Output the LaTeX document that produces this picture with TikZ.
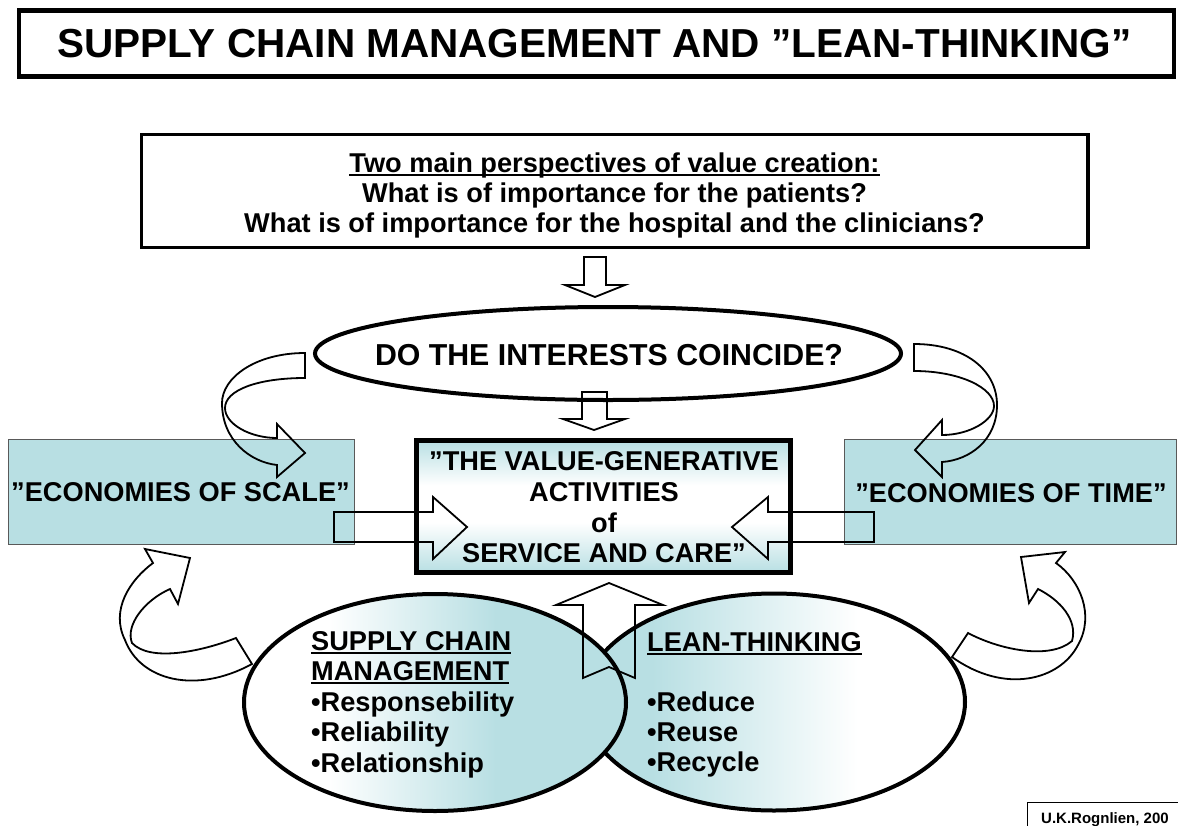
\documentclass[tikz,border=0pt]{standalone}
\usepackage{fontspec}
\setmainfont{Liberation Sans}
\usetikzlibrary{shapes.geometric}
\definecolor{tealbox}{RGB}{184,223,227}
\pgfdeclarehorizontalshading{scmshade}{100bp}{color(0bp)=(white); color(36bp)=(white); color(58bp)=(tealbox); color(100bp)=(tealbox)}
\pgfdeclarehorizontalshading{leanshade}{100bp}{color(0bp)=(tealbox); color(34bp)=(tealbox); color(61bp)=(white); color(100bp)=(white)}
\pgfdeclareverticalshading{centershade}{100bp}{color(0bp)=(tealbox); color(25bp)=(tealbox); color(44bp)=(white); color(58bp)=(white); color(75bp)=(tealbox); color(100bp)=(tealbox)}
\newcommand{\ulx}[1]{\setbox0=\hbox{#1}\rlap{\rule[-3.5pt]{\wd0}{2pt}}\box0}
\newcommand{\bodyfont}{\fontsize{27.2}{30}\selectfont\bfseries}
\newcommand{\titlefont}{\fontsize{40.5}{46}\selectfont\bfseries}
\newcommand{\askfont}{\fontsize{30.3}{34}\selectfont\bfseries}
\newcommand{\creditfont}{\fontsize{15}{18}\selectfont\bfseries}
\begin{document}
\begin{tikzpicture}[x=1pt,y=-1pt,
  txt/.style={inner sep=0pt, anchor=base, font=\bodyfont},
  txtl/.style={inner sep=0pt, anchor=base west, font=\bodyfont},
  frame/.style={draw=black, inner sep=0pt},
  blockarrow/.style={draw=black, line width=1.8pt, line join=miter, miter limit=20},
  sidebox/.style={draw=black!65, line width=1.2pt, fill=tealbox, inner sep=0pt, minimum height=104.5pt}
]
\useasboundingbox (0,0) rectangle (1178,825);

% title
\node[frame, line width=4.5pt, minimum width=1155pt, minimum height=66pt] (titlebox) at (596.5,43.5) {};
\node[inner sep=0pt, anchor=base, font=\titlefont] (titletext) at (594.5,57) {SUPPLY CHAIN MANAGEMENT AND ”LEAN-THINKING”};

% top box
\node[frame, line width=3.5pt, minimum width=946.5pt, minimum height=113pt] (topbox) at (614.75,191) {};
\node[txt] (top1) at (614.5,172) {\ulx{Two main perspectives of value creation:}};
\node[txt] (top2) at (614.5,202) {What is of importance for the patients?};
\node[txt] (top3) at (614.5,232) {What is of importance for the hospital and the clinicians?};

% question ellipse
\node[ellipse, draw=black, line width=4pt, minimum width=586pt, minimum height=93pt, inner sep=0pt] (ask) at (608,353.5) {};
\node[inner sep=0pt, anchor=base, font=\askfont] (asktext) at (609,365) {DO THE INTERESTS COINCIDE?};

% side boxes
\node[sidebox, minimum width=346pt] (scalebox) at (181.5,492) {};
\node[txt] (scaletext) at (180.5,501.5) {”ECONOMIES OF SCALE”};
\node[sidebox, minimum width=332pt] (timebox) at (1010.5,492) {};
\node[txt] (timetext) at (1011,502) {”ECONOMIES OF TIME”};

% centre box
\node[frame, line width=4.5pt, minimum width=374pt, minimum height=132pt, shading=centershade] (valuebox) at (603.5,506.5) {};
\node[txt] (val1) at (604,470) {”THE VALUE-GENERATIVE};
\node[txt] (val2) at (604,501) {ACTIVITIES};
\node[txt] (val3) at (604,532) {of};
\node[txt] (val4) at (604,562) {SERVICE AND CARE”};

% bottom ellipses
\node[ellipse, draw=black, line width=4pt, minimum width=382pt, minimum height=217pt, inner sep=0pt, shading=leanshade] (lean) at (774,702) {};
\node[ellipse, draw=black, line width=4pt, minimum width=382pt, minimum height=217pt, inner sep=0pt, shading=scmshade] (scm) at (435,702.5) {};

\node[txtl] (scm1) at (311,650) {\ulx{SUPPLY CHAIN}};
\node[txtl] (scm2) at (311,680) {\ulx{MANAGEMENT}};
\node[txtl] (scm3) at (311,711) {•Responsebility};
\node[txtl] (scm4) at (311,741) {•Reliability};
\node[txtl] (scm5) at (311,772) {•Relationship};

\node[txtl] (lean1) at (647,651) {\ulx{LEAN-THINKING}};
\node[txtl] (lean2) at (647,711) {•Reduce};
\node[txtl] (lean3) at (647,741) {•Reuse};
\node[txtl] (lean4) at (647,771) {•Recycle};

% straight block arrows
\draw[blockarrow] (584,257) -- (606,257) -- (606,285) -- (625,285) -- (595,297) -- (565,285) -- (584,285) -- cycle;
\draw[blockarrow] (582,392) -- (607,392) -- (607,419) -- (625,419) -- (594,430) -- (563,419) -- (582,419) -- cycle;
\draw[blockarrow] (334,512) -- (433,512) -- (433,497) -- (467,527) -- (433,559) -- (433,542) -- (334,542) -- cycle;
\draw[blockarrow] (874,512) -- (768,512) -- (768,497) -- (732,527) -- (768,559) -- (768,542) -- (874,542) -- cycle;
\draw[blockarrow] (583,678) -- (583,605) -- (556,605) -- (609,583) -- (663,605) -- (635,605) -- (635,678) -- (609,667) -- cycle;

% curved block arrows
\draw[blockarrow] (305,353) .. controls (255,353) and (222,378) .. (222,403)
  .. controls (222,440) and (250,462) .. (277,465) -- (277,477) -- (305,453) -- (277,424) -- (277,438)
  .. controls (250,438) and (225,424) .. (225,408) .. controls (225,390) and (258,378) .. (305,378) -- cycle;
\draw[blockarrow] (914,344) .. controls (965,344) and (997,370) .. (997,405)
  .. controls (997,440) and (970,460) .. (942,462) -- (942,477) -- (915,450) -- (942,420) -- (942,435)
  .. controls (970,435) and (994,420) .. (994,406) .. controls (994,388) and (960,371) .. (914,371) -- cycle;
\draw[blockarrow] (236,638) .. controls (200,652) and (150,662) .. (132,643)
  .. controls (125,625) and (145,600) .. (170,589) -- (178,604) -- (190,558) -- (145,549) -- (153,563)
  .. controls (130,580) and (110,610) .. (125,640) .. controls (140,680) and (195,695) .. (252,664) -- cycle;
\draw[blockarrow] (968,633) .. controls (1000,650) and (1050,660) .. (1072,641)
  .. controls (1078,620) and (1060,600) .. (1038,589) -- (1029,603) -- (1021,557) -- (1065,552) -- (1056,563)
  .. controls (1080,580) and (1095,615) .. (1078,645) .. controls (1060,680) and (1005,695) .. (952,657) -- cycle;

% credit
\node[draw=black, line width=1pt, minimum width=170pt, minimum height=40pt, inner sep=0pt, anchor=north west] (creditbox) at (1027,802) {};
\node[inner sep=0pt, anchor=base west, font=\creditfont] (credit) at (1041,823) {U.K.Rognlien, 200};
\end{tikzpicture}
\end{document}
